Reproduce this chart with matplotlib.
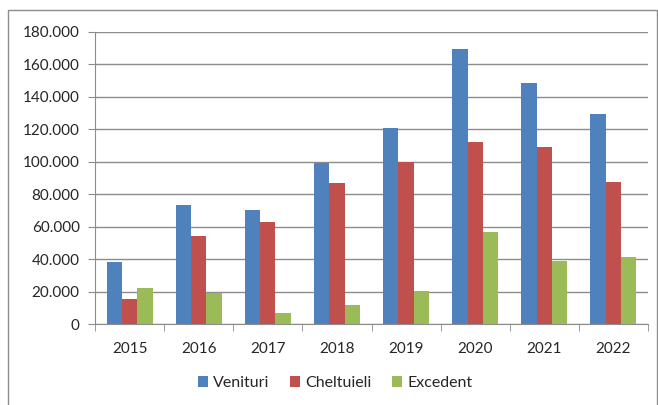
import matplotlib
matplotlib.use("Agg")
import matplotlib.pyplot as plt
import numpy as np
from matplotlib.patches import Rectangle

years = ["2015", "2016", "2017", "2018", "2019", "2020", "2021", "2022"]
venituri = [38000, 73300, 70000, 99300, 121100, 169300, 148700, 129500]
cheltuieli = [15200, 54000, 62800, 87100, 100100, 112000, 109100, 87700]
excedent = [22400, 19400, 6800, 11700, 20400, 56800, 39100, 41400]
series_names = ["Venituri", "Cheltuieli", "Excedent"]
colors = ["#4F81BD", "#C0504D", "#9BBB59"]
yticks = [0, 20000, 40000, 60000, 80000, 100000, 120000, 140000, 160000, 180000]
ytick_labels = ["0", "20.000", "40.000", "60.000", "80.000", "100.000", "120.000", "140.000", "160.000", "180.000"]

plt.rcParams['font.family'] = ['Lato', 'DejaVu Sans']

W, H = 658, 405
fig = plt.figure(figsize=(W / 100, H / 100), dpi=100)
fig.patches.append(Rectangle((8 / W, -0.01), (657 - 8) / W, (H - 10) / H + 0.01,
                             transform=fig.transFigure, fill=False,
                             edgecolor="#8C8C8C", linewidth=1.0))

left, right, top, bottom = 95, 648, 32, 324
ax = fig.add_axes([left / W, 1 - bottom / H, (right - left) / W, (bottom - top) / H])

x = np.arange(len(years))
bw = 0.222
for i, (vals, name, c) in enumerate(zip([venituri, cheltuieli, excedent], series_names, colors)):
    ax.bar(x + (i - 1) * bw, vals, width=bw, color=c, label=name, zorder=3)

ax.set_xlim(-0.5, len(years) - 0.5)
ax.set_ylim(0, 180000)
ax.set_yticks(yticks)
ax.set_yticklabels(ytick_labels)
ax.yaxis.grid(True, color="#8C8C8C", linewidth=1.0, zorder=0)
ax.set_xticks(x)
ax.set_xticklabels(years)
ax.set_xticks(np.arange(-0.5, len(years)), minor=True)
ax.tick_params(axis="x", which="major", length=0, pad=13, labelsize=11, labelcolor="#262626")
ax.tick_params(axis="x", which="minor", length=5, color="#8C8C8C", direction="out")
ax.tick_params(axis="y", length=5, color="#8C8C8C", labelsize=11, pad=6, labelcolor="#262626")
for s in ["top", "right"]:
    ax.spines[s].set_visible(False)
for s in ["left", "bottom"]:
    ax.spines[s].set_color("#8C8C8C")

leg = fig.legend(loc="center", bbox_to_anchor=(335 / W, 1 - 383 / H), ncol=3, frameon=False,
                 fontsize=11.5, handlelength=0.65, handleheight=0.65, handletextpad=0.3,
                 columnspacing=1.3)
for t in leg.get_texts():
    t.set_color("#262626")

fig.savefig("out.png", dpi=100)
